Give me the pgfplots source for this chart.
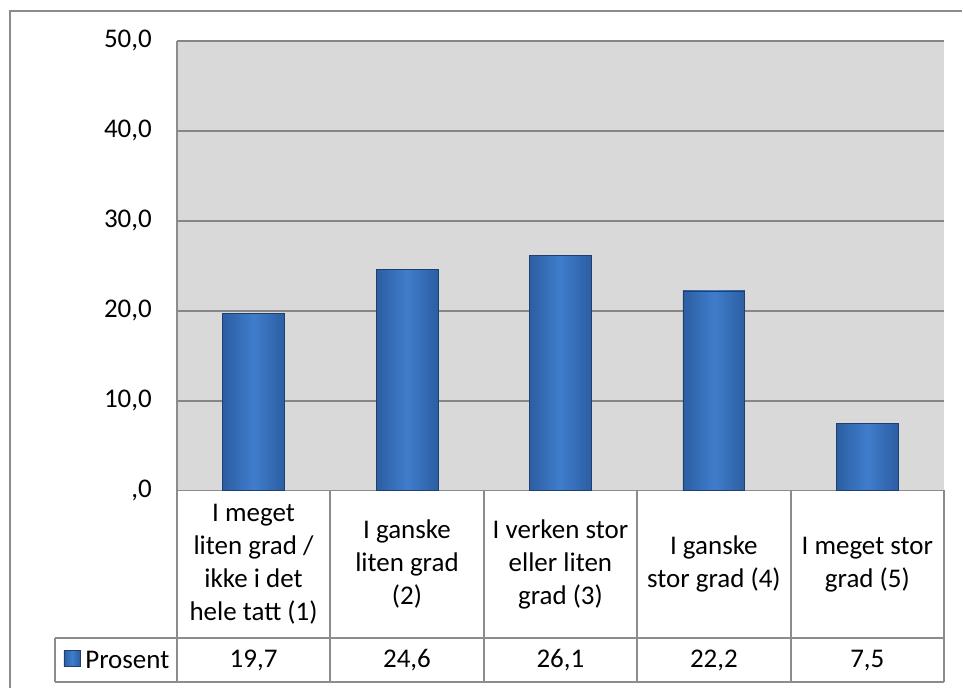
\documentclass[border=0pt]{standalone}
\usepackage{pgfplots}
\pgfplotsset{compat=1.18}
\usepackage{fontspec}
\setmainfont{Carlito}
\definecolor{plotbg}{HTML}{D9D9D9}
\definecolor{gridc}{HTML}{868686}
\definecolor{linec}{HTML}{8C8C8C}
\definecolor{barmid}{HTML}{3F7DCC}
\definecolor{baredge}{HTML}{2C5EA2}
\definecolor{bardraw}{HTML}{1F3F6E}

\begin{document}
\begin{tikzpicture}[font=\fontsize{13.5bp}{16.5bp}\selectfont,
  barsty/.style={draw=bardraw, left color=baredge, right color=baredge, middle color=barmid}]
% pixel grid of the reference: (177,491) is the lower left corner of the plot area
\begin{scope}[x=0.5bp,y=-0.5bp,shift={(-88.5bp,245.5bp)}]
  \useasboundingbox (0,0) rectangle (963,689);
\end{scope}
\begin{axis}[
    at={(0,0)}, anchor=south west,
    scale only axis, width=384bp, height=225bp,
    xmin=-0.5, xmax=4.5, ymin=0, ymax=50,
    axis background/.style={fill=plotbg},
    axis x line*=bottom, axis y line*=left,
    axis line style={-, draw=linec, line width=1bp},
    major tick length=0,
    ytick={0,10,...,50},
    yticklabels={{,0},{10,0},{20,0},{30,0},{40,0},{50,0}},
    yticklabel style={xshift=-9bp},
    xtick={0,...,4},
    xticklabels={{I meget\\liten grad /\\ikke i det\\hele tatt (1)},
                 {I ganske\\liten grad\\(2)},
                 {I verken stor\\eller liten\\grad (3)},
                 {I ganske\\stor grad (4)},
                 {I meget stor\\grad (5)}},
    xticklabel style={anchor=center, yshift=-37bp, align=center},
    ymajorgrids, grid style={gridc, line width=1bp},
    ybar, bar width=31bp, bar shift=0pt,
    nodes near coords,
    visualization depends on={rawy \as \ry},
    every node near coord/.append style={anchor=center, yshift=-\ry*4.5bp-85bp, text=black},
    /pgf/number format/.cd, use comma, fixed, fixed zerofill, precision=1, assume math mode=true,
]
% one plot per bar so that each bar gets its own shading
\addplot[barsty] coordinates {(0,19.7)};
\addplot[barsty] coordinates {(1,24.6)};
\addplot[barsty] coordinates {(2,26.1)};
\addplot[barsty] coordinates {(3,22.2)};
\addplot[barsty] coordinates {(4,7.5)};
\end{axis}
\begin{scope}[x=0.5bp,y=-0.5bp,shift={(-88.5bp,245.5bp)}]
  \draw[linec, line width=1bp] (55,639) -- (945,639) (55,683) -- (945,683) (55,639) -- (55,683);
  \foreach \xx in {177,330.6,484.2,637.8,791.4,945}
    \draw[linec, line width=1bp] (\xx,491) -- (\xx,683);
  \shade[barsty] (64,651) rectangle (80,667);
  \node[anchor=west, inner sep=0] at (85,661) {Prosent};
  \draw[linec, line width=1bp] (10,689) -- (10,11) -- (963,11);
\end{scope}
\end{tikzpicture}
\end{document}
